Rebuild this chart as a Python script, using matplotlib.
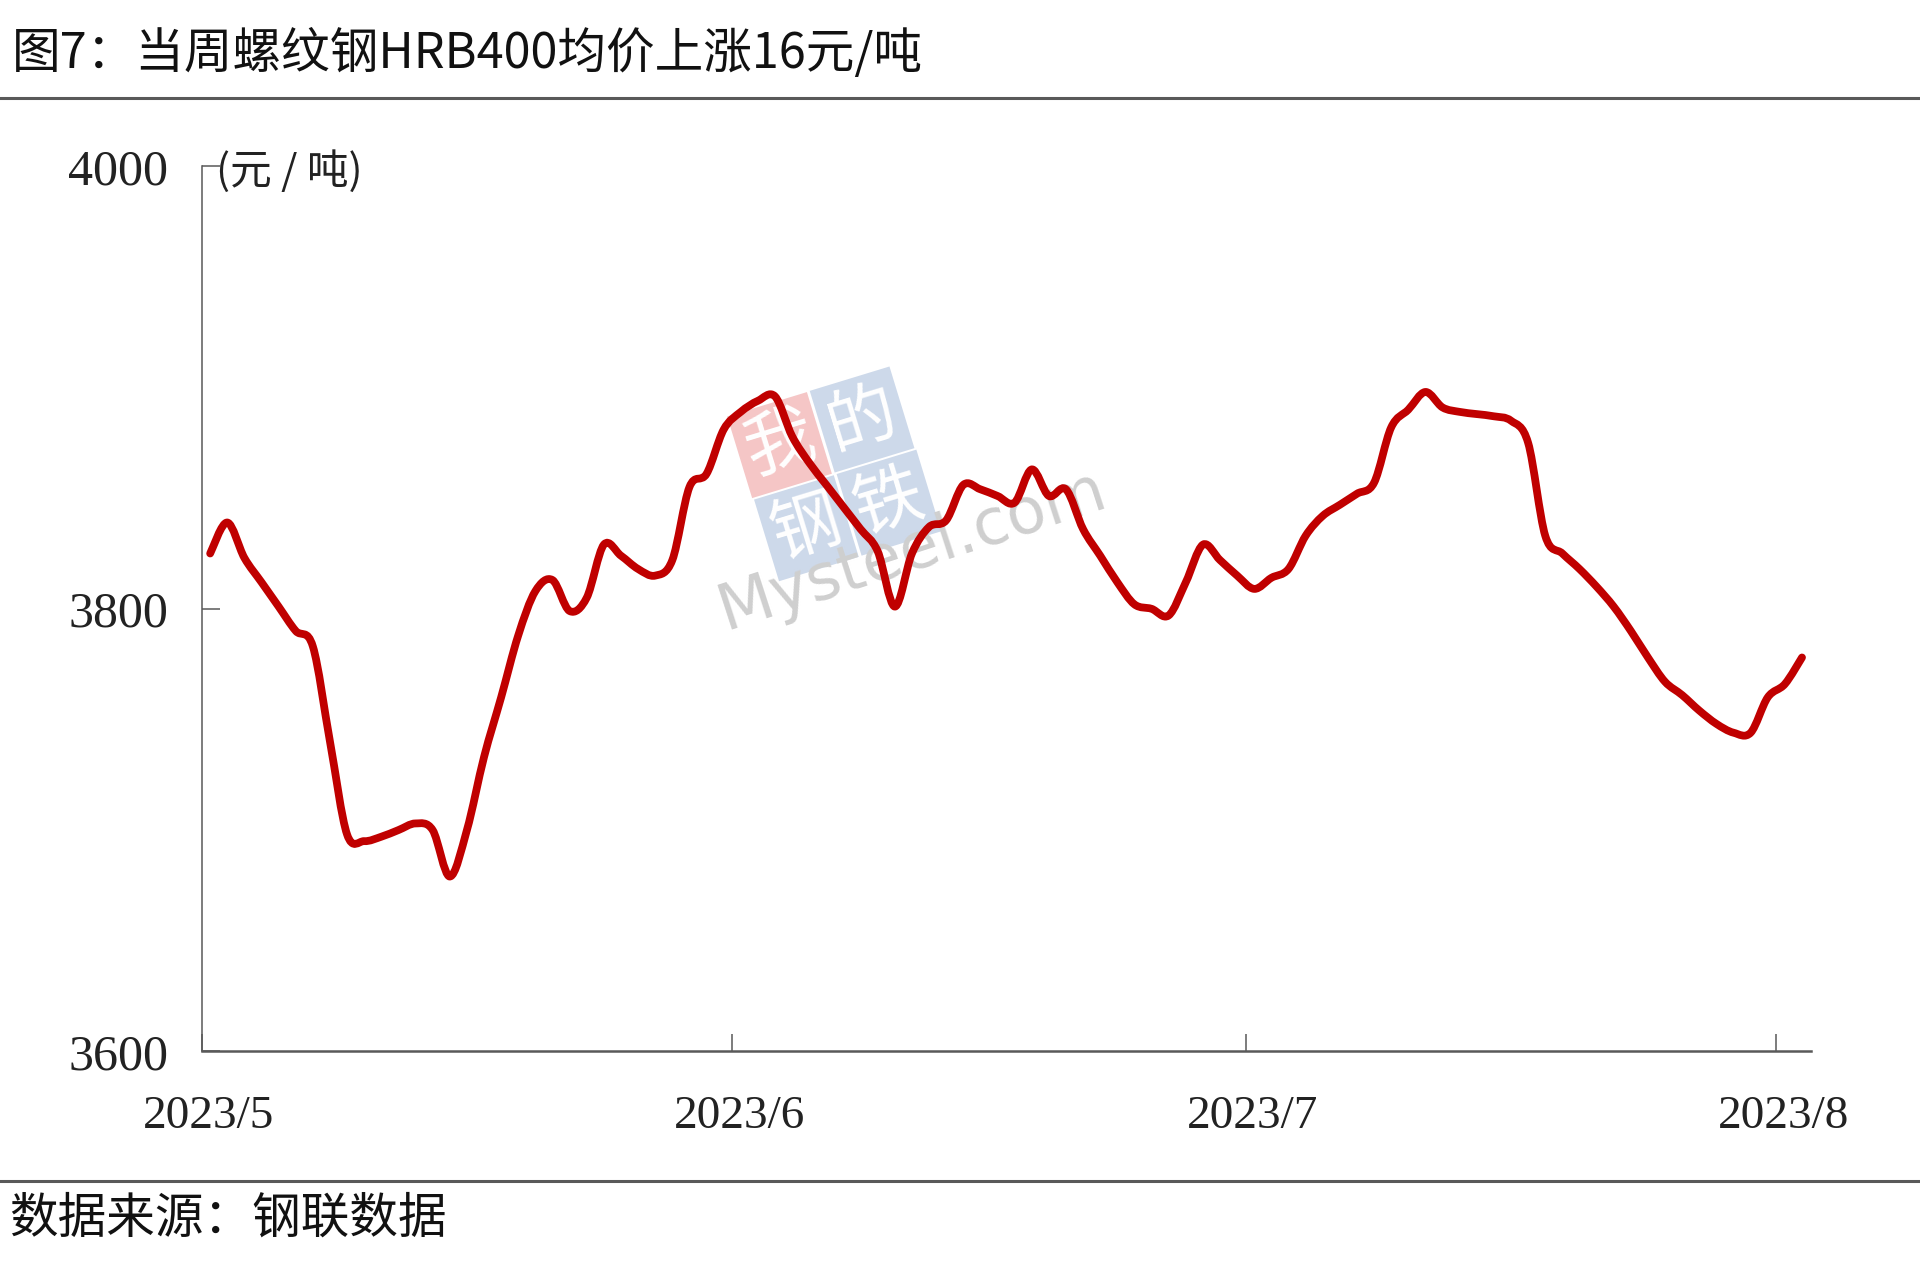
import matplotlib
matplotlib.use("Agg")
import matplotlib.pyplot as plt
import matplotlib.dates as mdates
import matplotlib.transforms as mtransforms
from matplotlib.path import Path
from matplotlib.patches import PathPatch
import numpy as np
import pandas as pd

# daily rebar HRB400 average price, 2023/5/1 - 2023/8/2 (yuan/ton)
start_date = "2023-05-01"
end_date = "2023-08-02"
prices = [
    3825, 3839, 3823, 3812, 3801, 3790, 3783, 3740, 3698, 3695,   # 5/1-5/10
    3697, 3700, 3703, 3700, 3679, 3700, 3733, 3760, 3788, 3808,   # 5/11-5/20
    3813, 3799, 3805, 3829, 3824, 3818, 3815, 3822, 3855, 3861,   # 5/21-5/30
    3881, 3889, 3894, 3896, 3878, 3866, 3856, 3846, 3836, 3826,   # 5/31-6/9
    3801, 3825, 3837, 3840, 3856, 3854, 3851, 3848, 3863, 3851,   # 6/10-6/19
    3854, 3836, 3824, 3812, 3802, 3800, 3797, 3812, 3829, 3822,   # 6/20-6/29
    3815, 3809, 3814, 3818, 3833, 3842, 3847, 3852, 3857, 3882,   # 6/30-7/9
    3890, 3898, 3891, 3889, 3888, 3887, 3885, 3875, 3833, 3825,   # 7/10-7/19
    3818, 3810, 3801, 3790, 3778, 3767, 3761, 3754, 3748, 3744,   # 7/20-7/29
    3744, 3760, 3766, 3778,                                       # 7/30-8/2
]
month_ticks = ["2023-05-01", "2023-06-01", "2023-07-01", "2023-08-01"]
month_labels = ["2023/5", "2023/6", "2023/7", "2023/8"]
y_ticks = [3600, 3800, 4000]

title = "图7：当周螺纹钢HRB400均价上涨16元/吨"
unit = "(元 / 吨)"
source = "数据来源：钢联数据"

cjk = ["Noto Sans CJK SC", "DejaVu Sans"]
serif = ["Liberation Serif", "DejaVu Serif"]
axis_col = "#595959"
line_col = "#C00000"


def smooth_path(x, y):
    # Excel-style smoothed line: cubic bezier segments through every point
    pts = np.column_stack([x, y])
    ext = np.vstack([pts[0], pts, pts[-1]])
    verts = [pts[0]]
    codes = [Path.MOVETO]
    for i in range(len(pts) - 1):
        p0, p1, p2, p3 = ext[i], ext[i + 1], ext[i + 2], ext[i + 3]
        verts += [p1 + (p2 - p0) / 6, p2 - (p3 - p1) / 6, p2]
        codes += [Path.CURVE4] * 3
    return Path(verts, codes)


dates = pd.date_range(start_date, end_date, freq="D") + pd.Timedelta(hours=12)
xnum = mdates.date2num(dates.to_pydatetime())

fig = plt.figure(figsize=(19.2, 12.79), dpi=100)
ax = fig.add_axes([0.105, 0.178, 0.838, 0.692])

ax.add_patch(PathPatch(smooth_path(xnum, np.array(prices, float)), fill=False,
                       ec=line_col, lw=5.6, joinstyle="round", capstyle="round",
                       zorder=3))

ax.xaxis_date()
ax.set_xlim(pd.Timestamp("2023-05-01"), pd.Timestamp("2023-08-03"))
ax.set_ylim(3600, 4000)
ax.set_yticks(y_ticks)
ax.set_yticklabels([str(v) for v in y_ticks], fontfamily=serif, fontsize=36,
                   color="#222222")
ax.set_xticks([pd.Timestamp(t) for t in month_ticks])
ax.set_xticklabels(month_labels, fontfamily=serif, fontsize=34, color="#222222")
ax.tick_params(axis="y", direction="in", length=13, width=1.1, color=axis_col, pad=24)
ax.tick_params(axis="x", direction="in", length=12, width=1.1, color=axis_col, pad=32)
shift = mtransforms.ScaledTranslation(0.07, 0, fig.dpi_scale_trans)
for lab in ax.get_xticklabels():
    lab.set_transform(lab.get_transform() + shift)

for s in ["top", "right"]:
    ax.spines[s].set_visible(False)
ax.spines["left"].set_color(axis_col)
ax.spines["left"].set_linewidth(1.1)
ax.spines["bottom"].set_color(axis_col)
ax.spines["bottom"].set_linewidth(1.8)

ax.text(0.009, 0.994, unit, transform=ax.transAxes, fontfamily=cjk, fontsize=30,
        color="#222222", ha="left", va="center")

# header / footer
fig.text(0.006, 0.958, title, fontfamily=cjk, fontsize=35, color="#111111",
         ha="left", va="center")
fig.add_artist(plt.Line2D([0, 1], [0.923, 0.923], color=axis_col, lw=2.2))
fig.add_artist(plt.Line2D([0, 1], [0.077, 0.077], color=axis_col, lw=2.2))
fig.text(0.005, 0.047, source, fontfamily=cjk, fontsize=35, color="#111111",
         ha="left", va="center")

# watermark, drawn under the price line
wm = [("我", 0.406, 0.652, "#f5c6c6"), ("的", 0.449, 0.672, "#cdd9ea"),
      ("钢", 0.420, 0.587, "#cdd9ea"), ("铁", 0.463, 0.607, "#cdd9ea")]
for ch, x, y, c in wm:
    ax.text(x, y, ch, transform=fig.transFigure, fontfamily=cjk, fontsize=50,
            color="white", ha="center", va="center", rotation=17, zorder=1,
            bbox=dict(boxstyle="square,pad=0.1", fc=c, ec="none"))
ax.text(0.475, 0.570, "Mysteel.com", transform=fig.transFigure,
        fontfamily=["DejaVu Sans"], fontsize=46, color="#cfcfcf",
        ha="center", va="center", rotation=18, zorder=1)

fig.savefig("out.png", dpi=100)
